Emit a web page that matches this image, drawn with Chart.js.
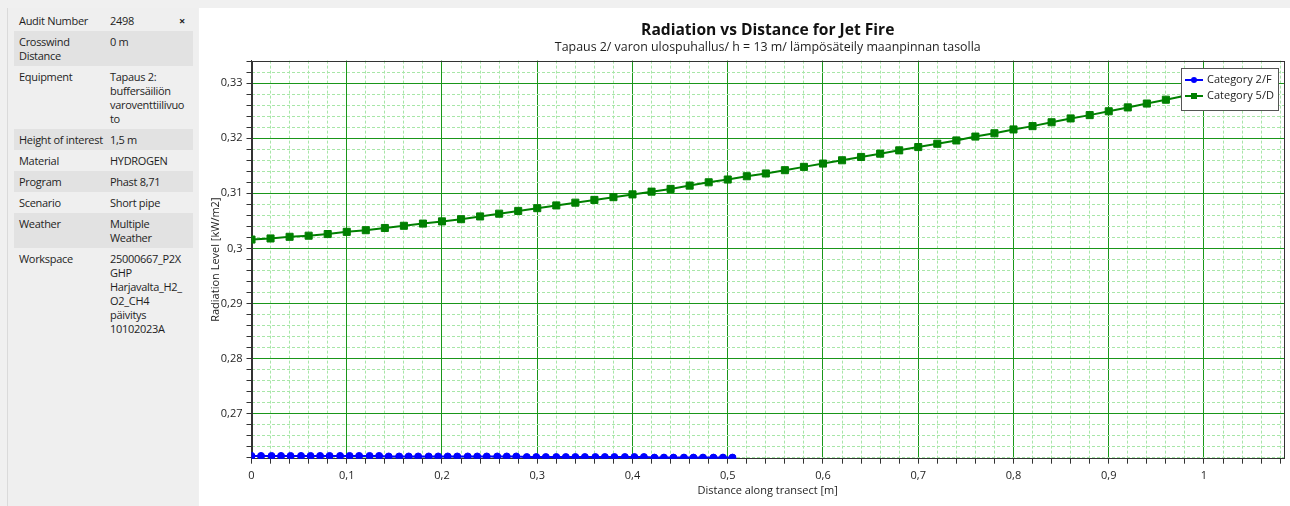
<!DOCTYPE html>
<html>
<head>
<meta charset="utf-8">
<script src="https://cdn.jsdelivr.net/npm/chart.js@4.4.1/dist/chart.umd.min.js"></script>
<style>
html, body { margin: 0; padding: 0; }
body {
    width: 1290px; height: 506px; position: relative; overflow: hidden;
    background: #f0f0f0; font-family: 'Open Sans', sans-serif; font-size: 11px; color: #1e1e1e;
}
#side {
    position: absolute; left: 7px; top: 8px; width: 190px; height: 498px;
    background: #efefef; border-left: 1px solid #dadada;
}
#rows { position: absolute; left: 6px; top: 2px; width: 179px; letter-spacing: -0.3px; }
.row { display: flex; padding: 3.5px 0; line-height: 14px; position: relative; }
.row.alt { background: #e2e2e2; }
.k { width: 91px; padding-left: 5px; flex: none; white-space: nowrap; }
.v { flex: 1; }
.x { position: absolute; right: 8px; top: 4px; font-weight: bold; font-size: 11px; }
#chartbox { position: absolute; left: 199px; top: 8px; width: 1091px; height: 498px; background: #fff; }
</style>
</head>
<body>
<div id="side">
  <div id="rows">
    <div class="row"><div class="k">Audit Number</div><div class="v">2498</div><div class="x">×</div></div>
    <div class="row alt"><div class="k">Crosswind<br>Distance</div><div class="v">0 m</div></div>
    <div class="row"><div class="k">Equipment</div><div class="v">Tapaus 2:<br>buffersäiliön<br>varoventtiilivuo<br>to</div></div>
    <div class="row alt"><div class="k">Height of interest</div><div class="v">1,5 m</div></div>
    <div class="row"><div class="k">Material</div><div class="v">HYDROGEN</div></div>
    <div class="row alt"><div class="k">Program</div><div class="v">Phast 8,71</div></div>
    <div class="row"><div class="k">Scenario</div><div class="v">Short pipe</div></div>
    <div class="row alt"><div class="k">Weather</div><div class="v">Multiple<br>Weather</div></div>
    <div class="row"><div class="k">Workspace</div><div class="v">25000667_P2X<br>GHP<br>Harjavalta_H2_<br>O2_CH4<br>päivitys<br>10102023A</div></div>
  </div>
</div>
<div id="chartbox"><canvas id="myChart" width="1091" height="498"></canvas></div>
<script>
// distance along transect [m]
const blueX = [0, 0.010, 0.021, 0.031, 0.041, 0.052, 0.062, 0.072, 0.082, 0.093,
    0.103, 0.113, 0.124, 0.134, 0.144, 0.155, 0.165, 0.175, 0.186, 0.196,
    0.206, 0.216, 0.227, 0.237, 0.247, 0.258, 0.268, 0.278, 0.289, 0.299,
    0.309, 0.320, 0.330, 0.340, 0.350, 0.361, 0.371, 0.381, 0.392, 0.402,
    0.412, 0.423, 0.433, 0.443, 0.454, 0.464, 0.474, 0.485, 0.495, 0.505];
const blueY = [0.2623, 0.2623, 0.2623, 0.2623, 0.2623, 0.2623, 0.2623, 0.2623, 0.2623, 0.2623,
    0.2623, 0.2623, 0.2623, 0.2623, 0.2622, 0.2622, 0.2622, 0.2622, 0.2622, 0.2622,
    0.2622, 0.2622, 0.2622, 0.2622, 0.2622, 0.2622, 0.2622, 0.2622, 0.2621, 0.2621,
    0.2621, 0.2621, 0.2621, 0.2621, 0.2621, 0.2621, 0.2621, 0.2621, 0.2621, 0.2621,
    0.2621, 0.2620, 0.2620, 0.2620, 0.2620, 0.2620, 0.2620, 0.2620, 0.2620, 0.2620];

const greenX = [0, 0.02, 0.04, 0.06, 0.08, 0.10, 0.12, 0.14, 0.16, 0.18,
    0.20, 0.22, 0.24, 0.26, 0.28, 0.30, 0.32, 0.34, 0.36, 0.38,
    0.40, 0.42, 0.44, 0.46, 0.48, 0.50, 0.52, 0.54, 0.56, 0.58,
    0.60, 0.62, 0.64, 0.66, 0.68, 0.70, 0.72, 0.74, 0.76, 0.78,
    0.80, 0.82, 0.84, 0.86, 0.88, 0.90, 0.92, 0.94, 0.96, 0.98, 1.00];
const greenY = [0.3016, 0.3018, 0.3021, 0.3023, 0.3026, 0.3030, 0.3033, 0.3037, 0.3041, 0.3045,
    0.3049, 0.3053, 0.3058, 0.3063, 0.3068, 0.3073, 0.3078, 0.3083, 0.3088, 0.3093,
    0.3098, 0.3103, 0.3108, 0.3114, 0.3120, 0.3125, 0.3131, 0.3136, 0.3142, 0.3148,
    0.3154, 0.3160, 0.3166, 0.3172, 0.3178, 0.3184, 0.3190, 0.3196, 0.3203, 0.3209,
    0.3216, 0.3222, 0.3229, 0.3236, 0.3242, 0.3249, 0.3256, 0.3263, 0.3270, 0.3277, 0.3284];

const xTickLabels = ['0', '0,1', '0,2', '0,3', '0,4', '0,5', '0,6', '0,7', '0,8', '0,9', '1'];
const yTickLabels = ['0,27', '0,28', '0,29', '0,3', '0,31', '0,32', '0,33'];

const X_MIN = 0, X_MAX = 1.084, X_STEP = 0.02;
const Y_MIN = 0.2618, Y_MAX = 0.3341, Y_STEP = 0.002;

function isMajor(v, per) {
    return Math.abs(v * per - Math.round(v * per)) < 1e-6;
}

function minorTicks(min, max, step) {
    const ticks = [];
    for (let i = Math.ceil(min / step - 1e-9); i * step <= max + 1e-9; i++) {
        ticks.push({ value: Math.round(i * step * 10000) / 10000 });
    }
    return ticks;
}

const MAJOR_GRID = '#1a961a';
const MINOR_GRID = '#a8e6a8';

Chart.defaults.font.family = "'Open Sans', sans-serif";
Chart.defaults.font.size = 11;
Chart.defaults.color = '#1e1e1e';

const frame = {
    id: 'frame',
    beforeDatasetsDraw: function (chart) {
        const a = chart.chartArea;
        const ctx = chart.ctx;
        ctx.save();
        ctx.strokeStyle = '#333';
        ctx.lineWidth = 1;
        ctx.strokeRect(Math.round(a.left) + 0.5, Math.round(a.top) + 0.5,
            Math.round(a.right - a.left) - 1, Math.round(a.bottom - a.top) - 1);
        ctx.restore();
    }
};

const boxLegend = {
    id: 'boxLegend',
    afterDraw: function (chart) {
        const ctx = chart.ctx;
        const a = chart.chartArea;
        const w = 97, h = 42;
        const x0 = Math.round(a.right - w - 6), y0 = Math.round(a.top + 7);
        ctx.save();
        ctx.fillStyle = '#fff';
        ctx.fillRect(x0, y0, w, h);
        ctx.strokeStyle = '#555';
        ctx.lineWidth = 1;
        ctx.strokeRect(x0 + 0.5, y0 + 0.5, w, h);
        chart.data.datasets.forEach(function (ds, i) {
            const cy = y0 + 12 + i * 16;
            ctx.strokeStyle = ds.borderColor;
            ctx.fillStyle = ds.borderColor;
            ctx.lineWidth = 2;
            ctx.beginPath();
            ctx.moveTo(x0 + 4, cy);
            ctx.lineTo(x0 + 22, cy);
            ctx.stroke();
            if (ds.pointStyle === 'rect') {
                ctx.fillRect(x0 + 10, cy - 3, 6, 6);
            } else {
                ctx.beginPath();
                ctx.arc(x0 + 13, cy, 3, 0, Math.PI * 2);
                ctx.fill();
            }
            ctx.fillStyle = '#1e1e1e';
            ctx.font = "11px 'Open Sans', sans-serif";
            ctx.textBaseline = 'middle';
            ctx.textAlign = 'left';
            ctx.fillText(ds.label, x0 + 26, cy);
        });
        ctx.restore();
    }
};

const chartConfig = {
    type: 'line',
    data: {
        datasets: [
            {
                label: 'Category 2/F',
                data: blueX.map((x, i) => ({ x: x, y: blueY[i] })),
                borderColor: '#0000ff',
                backgroundColor: '#0000ff',
                borderWidth: 2,
                pointStyle: 'circle',
                pointRadius: 3.5,
                pointBorderWidth: 1,
                tension: 0
            },
            {
                label: 'Category 5/D',
                data: greenX.map((x, i) => ({ x: x, y: greenY[i] })),
                borderColor: '#008000',
                backgroundColor: '#008000',
                borderWidth: 2,
                pointStyle: 'rect',
                pointRadius: 5,
                pointBorderWidth: 1,
                tension: 0
            }
        ]
    },
    options: {
        responsive: false,
        animation: false,
        layout: { padding: { left: 6, right: 5, top: 0, bottom: 0 } },
        scales: {
            x: {
                type: 'linear',
                min: X_MIN,
                max: X_MAX,
                afterBuildTicks: function (s) { s.ticks = minorTicks(X_MIN, X_MAX, X_STEP); },
                afterFit: function (s) { s.height = 47.3; },
                ticks: {
                    autoSkip: false,
                    maxRotation: 0,
                    padding: 6,
                    callback: function (v) {
                        return isMajor(v, 10) ? (xTickLabels[Math.round(v * 10)] || '') : '';
                    }
                },
                grid: {
                    color: ctx => isMajor(ctx.tick.value, 10) ? MAJOR_GRID : MINOR_GRID,
                    tickColor: '#333',
                    tickLength: 5
                },
                border: {
                    color: '#333',
                    dash: ctx => (ctx.tick && !isMajor(ctx.tick.value, 10)) ? [3, 2] : []
                },
                title: {
                    display: true,
                    text: 'Distance along transect [m]',
                    padding: { top: 0, bottom: 9 }
                }
            },
            y: {
                type: 'linear',
                min: Y_MIN,
                max: Y_MAX,
                afterBuildTicks: function (s) { s.ticks = minorTicks(Y_MIN, Y_MAX, Y_STEP); },
                afterFit: function (s) { s.width = 46.5; },
                ticks: {
                    autoSkip: false,
                    padding: 4,
                    callback: function (v) {
                        return isMajor(v, 100) ? (yTickLabels[Math.round(v * 100) - 27] || '') : '';
                    }
                },
                grid: {
                    color: ctx => isMajor(ctx.tick.value, 100) ? MAJOR_GRID : MINOR_GRID,
                    tickColor: '#333',
                    tickLength: 5
                },
                border: {
                    color: '#333',
                    dash: ctx => (ctx.tick && !isMajor(ctx.tick.value, 100)) ? [3, 2] : []
                },
                title: {
                    display: true,
                    text: 'Radiation Level [kW/m2]',
                    padding: { top: 4, bottom: 0 }
                }
            }
        },
        plugins: {
            legend: { display: false },
            tooltip: { enabled: false },
            title: {
                display: true,
                fullSize: false,
                text: 'Radiation vs Distance for Jet Fire',
                color: '#111',
                font: { size: 15.6, weight: 'bold' },
                padding: { top: 13, bottom: 0.5 }
            },
            subtitle: {
                display: true,
                fullSize: false,
                text: 'Tapaus 2/ varon ulospuhallus/ h = 13 m/ lämpösäteily maanpinnan tasolla',
                font: { size: 12.4 },
                padding: { top: 0, bottom: 5.5 }
            }
        }
    },
    plugins: [frame, boxLegend]
};

const ctx = document.getElementById('myChart').getContext('2d');
const myChart = new Chart(ctx, chartConfig);
</script>
</body>
</html>
